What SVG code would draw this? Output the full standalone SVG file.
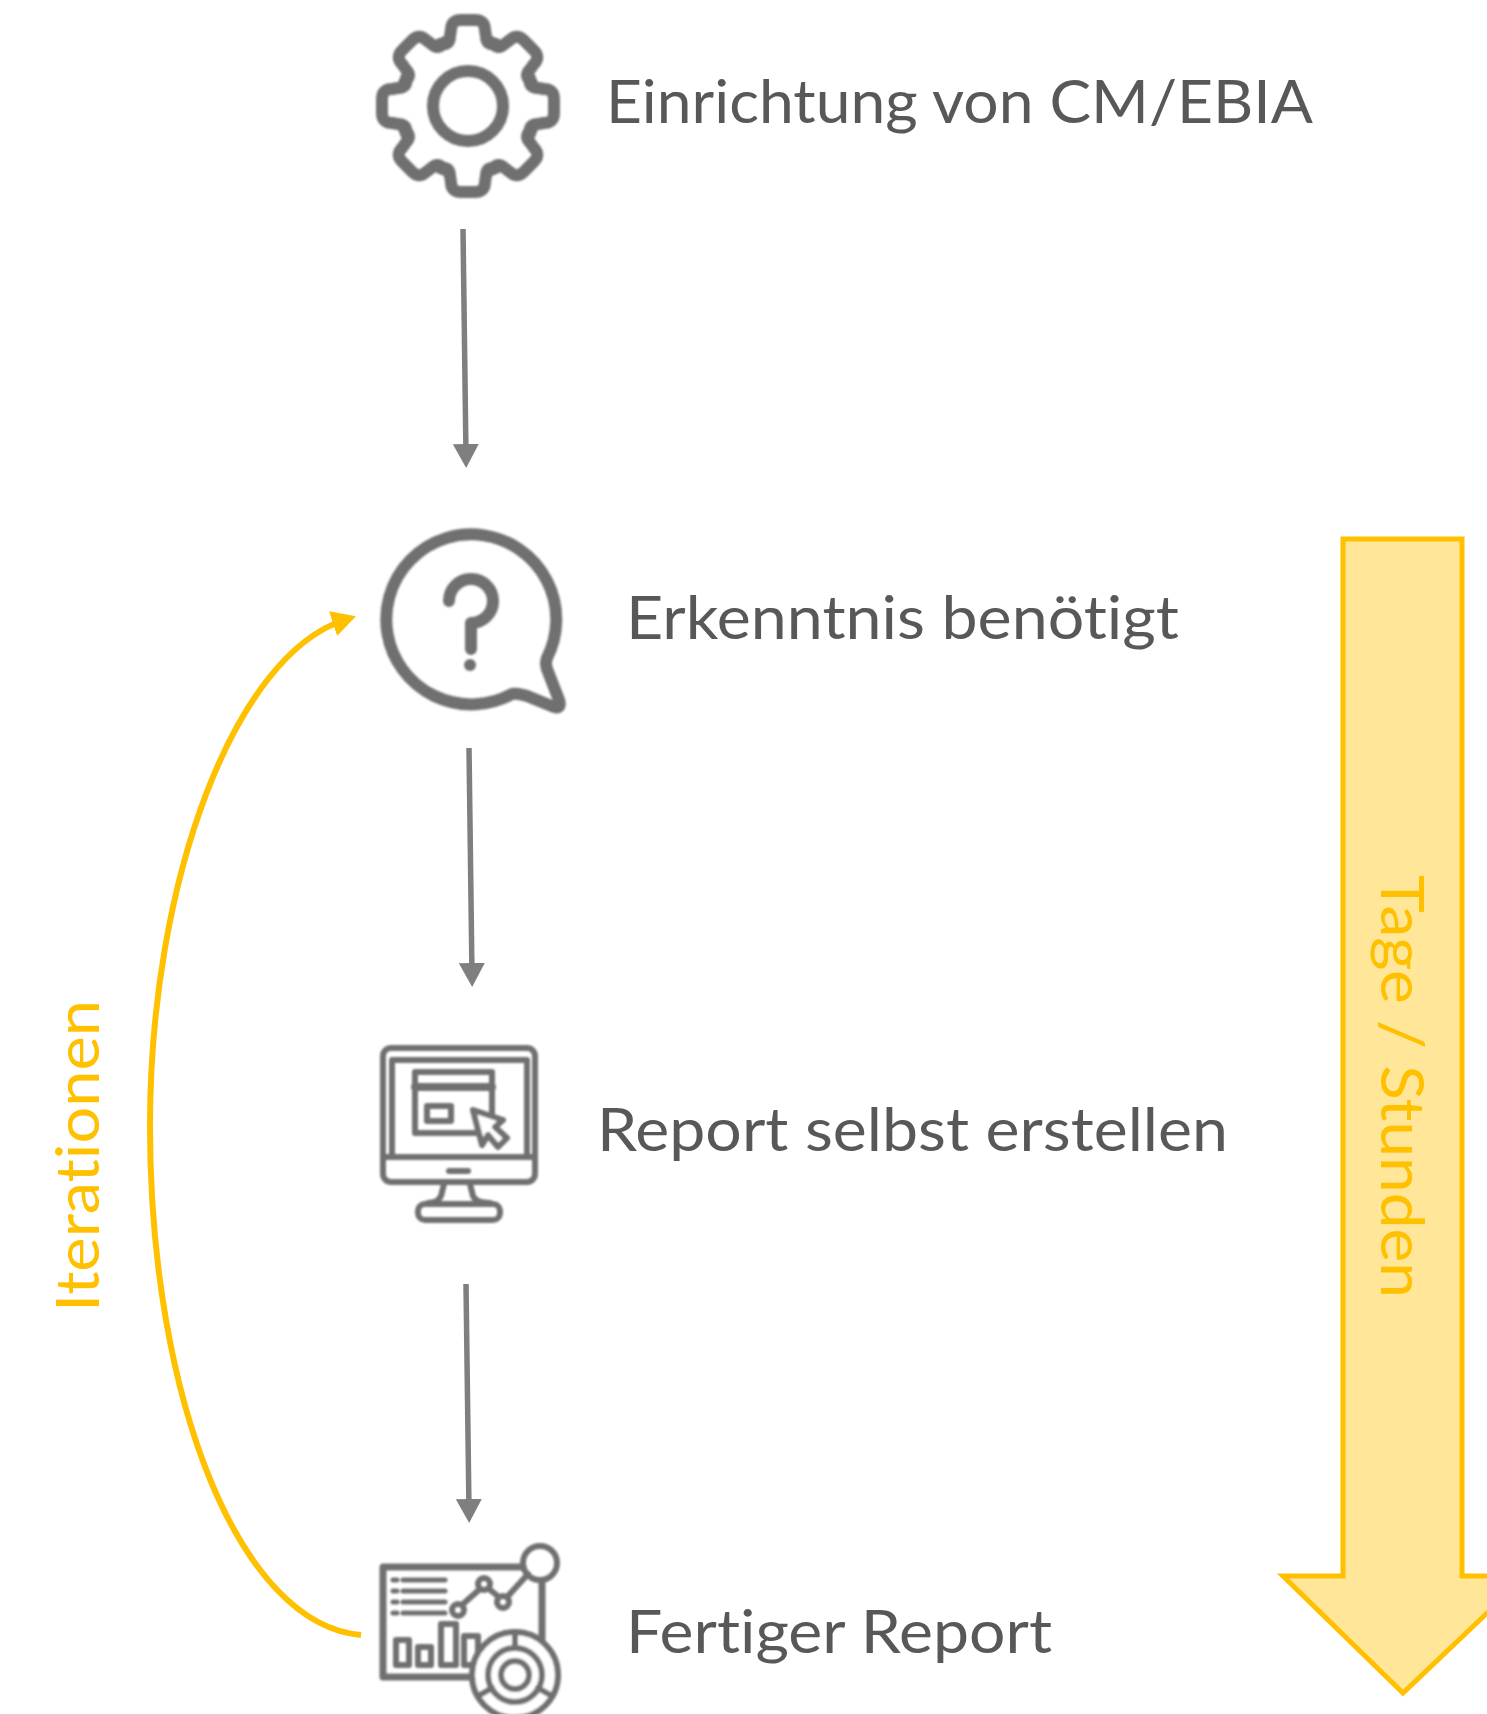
<svg xmlns="http://www.w3.org/2000/svg" xmlns:xlink="http://www.w3.org/1999/xlink" width="1487" height="1714" viewBox="0 0 1487 1714">
  <defs>
    <style>
      .ico { fill: none; stroke: #707070; stroke-width: 12; stroke-linecap: round; stroke-linejoin: round; }
      .dot { fill: #707070; stroke: none; }
      .thin { fill: none; stroke: #707070; stroke-width: 6; stroke-linecap: round; stroke-linejoin: round; }
      .wf { fill: #fff; stroke: #707070; stroke-width: 6; stroke-linejoin: round; }
      .lab { font-family: "Lato", "Liberation Sans", sans-serif; font-size: 60px; fill: #595959; font-variant-ligatures: none; }
      .gold { font-family: "Lato", "Liberation Sans", sans-serif; font-size: 60px; fill: #FFC000; font-variant-ligatures: none; }
      .conn { fill: none; stroke: #7f7f7f; stroke-width: 5.5; }
    </style>
    <filter id="soft" x="-5%" y="-5%" width="110%" height="110%"><feGaussianBlur stdDeviation="0.9"/></filter>
    <filter id="softer" x="-5%" y="-5%" width="110%" height="110%"><feGaussianBlur stdDeviation="0.6"/></filter>
    <marker id="grey" markerUnits="userSpaceOnUse" markerWidth="28" markerHeight="26" refX="12" refY="13" orient="auto">
      <path d="M0,0 L24,13 L0,26 Z" fill="#7f7f7f"/>
    </marker>
    <marker id="amber" markerUnits="userSpaceOnUse" markerWidth="28" markerHeight="26" refX="12" refY="13" orient="auto">
      <path d="M0,0 L24,13 L0,26 Z" fill="#FFC000"/>
    </marker>
    <path id="tooth" d="M-28,-62 Q-18,-60 -18,-70 L-17,-76 Q-17,-86 -7,-86 L7,-86 Q17,-86 17,-76 L18,-70 Q18,-60 28,-62"/>
  </defs>
  <rect width="1487" height="1714" fill="#fff"/>

  <g id="node-tage">
    <path d="M1343,539 H1462 V1576 H1526 L1403,1693 L1283,1576 H1343 Z" fill="#FFE699" stroke="#FFC000" stroke-width="5"/>
    <text class="gold" filter="url(#softer)" transform="translate(1381,875) rotate(90)" textLength="423" lengthAdjust="spacingAndGlyphs">Tage / Stunden</text>
  </g>

  <g id="node-iterationen">
    <text class="gold" filter="url(#softer)" transform="translate(99,1312) rotate(-90)" textLength="312" lengthAdjust="spacingAndGlyphs">Iterationen</text>
  </g>

  <g id="connectors">
    <path class="conn" d="M463,229 L466,456" marker-end="url(#grey)"/>
    <path class="conn" d="M469,748 L472,975" marker-end="url(#grey)"/>
    <path class="conn" d="M466,1284 L469,1511" marker-end="url(#grey)"/>
    <path d="M361,1635 C240,1625 150,1400 150,1126 C150,880 235,655 344.5,620" fill="none" stroke="#FFC000" stroke-width="6" marker-end="url(#amber)"/>
  </g>

  <g id="node-einrichtung">
    <g filter="url(#soft)" transform="translate(468,106)">
      <g class="ico">
        <use xlink:href="#tooth" href="#tooth"/>
        <use xlink:href="#tooth" href="#tooth" transform="rotate(45)"/>
        <use xlink:href="#tooth" href="#tooth" transform="rotate(90)"/>
        <use xlink:href="#tooth" href="#tooth" transform="rotate(135)"/>
        <use xlink:href="#tooth" href="#tooth" transform="rotate(180)"/>
        <use xlink:href="#tooth" href="#tooth" transform="rotate(225)"/>
        <use xlink:href="#tooth" href="#tooth" transform="rotate(270)"/>
        <use xlink:href="#tooth" href="#tooth" transform="rotate(315)"/>
        <circle r="35"/>
      </g>
    </g>
    <text class="lab" filter="url(#softer)" x="606" y="123" textLength="707" lengthAdjust="spacingAndGlyphs">Einrichtung von CM/EBIA</text>
  </g>

  <g id="node-erkenntnis">
    <g filter="url(#soft)" transform="translate(2,1)">
      <path class="ico" d="M545,657 A85,85 0 1 0 510,693 Q518,692 530,697 L552,706 Q560,708 557,699 L545,668 Q543,662 545,657 Z"/>
      <path class="ico" d="M447,600 A22,22 0 1 1 469,622 L469,648"/>
      <circle class="dot" cx="468" cy="664" r="6"/>
    </g>
    <text class="lab" filter="url(#softer)" x="626" y="639" textLength="553" lengthAdjust="spacingAndGlyphs">Erkenntnis benötigt</text>
  </g>

  <g id="node-report-erstellen">
    <g filter="url(#soft)">
      <rect class="thin" x="383" y="1048" width="152" height="134" rx="8"/>
      <path class="thin" d="M392,1060 H527 V1157 M383,1157 H535 M392,1060 V1157"/>
      <rect class="thin" x="415" y="1072" width="77" height="61"/>
      <path class="thin" d="M415,1087 H492" style="stroke-width:8"/>
      <rect class="thin" x="427" y="1106" width="24" height="15"/>
      <path class="wf" d="M473,1110 L503,1120 L495,1127 L507,1138 L498,1147 L488,1135 L482,1145 Z"/>
      <path class="thin" d="M449,1171 H468"/>
      <path class="thin" d="M444,1184 L441,1196 Q438,1203 428,1203 M470,1184 L473,1196 Q476,1203 490,1203"/>
      <rect class="thin" x="418" y="1204" width="82" height="16" rx="7"/>
    </g>
    <text class="lab" filter="url(#softer)" x="597" y="1151" textLength="631" lengthAdjust="spacingAndGlyphs">Report selbst erstellen</text>
  </g>

  <g id="node-fertiger-report">
    <g filter="url(#soft)">
      <path class="thin" d="M523,1567 H383 V1677 H480 M542,1582 V1640" style="stroke-width:7"/>
      <circle class="thin" cx="540" cy="1563" r="17"/>
      <path class="thin" d="M403,1580 H445 M403,1591 H445 M403,1602 H445 M403,1613 H445" style="stroke-width:5"/>
      <path class="thin" d="M393,1580 H397 M393,1591 H397 M393,1602 H397 M393,1613 H397" style="stroke-width:5"/>
      <path class="thin" d="M463,1604 L480,1589 M489,1589 L499,1597 M508,1596 L528,1574"/>
      <circle class="thin" cx="458" cy="1610" r="6"/>
      <circle class="thin" cx="484" cy="1584" r="6"/>
      <circle class="thin" cx="503" cy="1602" r="6"/>
      <rect class="thin" x="396" y="1640" width="13" height="25"/>
      <rect class="thin" x="418" y="1647" width="13" height="18"/>
      <rect class="thin" x="441" y="1624" width="15" height="41"/>
      <rect class="thin" x="464" y="1636" width="14" height="29"/>
      <circle class="wf" cx="515" cy="1675" r="43"/>
      <circle class="thin" cx="515" cy="1675" r="27"/>
      <circle class="thin" cx="515" cy="1675" r="14"/>
      <path class="thin" d="M515,1632 V1648 M478,1696 L492,1688 M552,1696 L538,1688"/>
    </g>
    <text class="lab" filter="url(#softer)" x="626" y="1653" textLength="426" lengthAdjust="spacingAndGlyphs">Fertiger Report</text>
  </g>
</svg>
